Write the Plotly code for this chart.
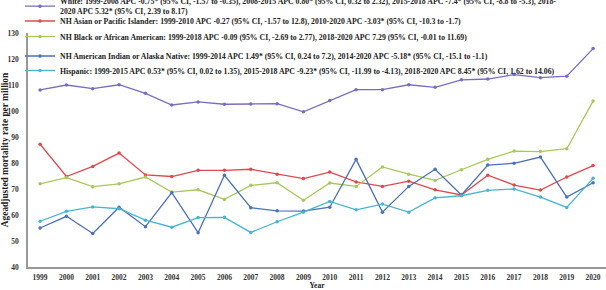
import plotly.graph_objects as go

years = list(range(1999, 2021))

white = [108.1, 110.0, 108.6, 110.1, 106.8, 102.3, 103.5, 102.6, 102.7, 102.8, 99.7,
         104.0, 108.2, 108.2, 110.1, 109.1, 112.0, 112.3, 114.0, 112.8, 113.4, 124.0]
asian = [87.2, 74.8, 78.7, 83.8, 75.4, 74.8, 77.2, 77.2, 77.6, 75.7, 74.0,
         76.5, 72.7, 71.0, 73.0, 69.7, 67.7, 75.3, 71.5, 69.6, 74.6, 79.0]
black = [72.0, 74.4, 70.9, 72.0, 74.6, 68.8, 69.7, 66.0, 71.4, 72.4, 65.7,
         72.3, 71.0, 78.5, 75.7, 73.3, 77.4, 81.4, 84.6, 84.4, 85.5, 103.8]
aian = [55.0, 59.5, 52.9, 63.0, 55.5, 68.6, 53.2, 75.3, 62.8, 61.6, 61.5,
        63.0, 81.4, 61.1, 71.0, 77.6, 67.7, 79.2, 79.9, 82.3, 66.9, 72.4]
hispanic = [57.6, 61.4, 63.1, 62.4, 58.0, 55.3, 59.0, 59.1, 53.3, 57.4, 61.1,
            65.2, 62.0, 64.2, 61.1, 66.6, 67.4, 69.5, 70.0, 66.9, 62.9, 74.1]

names = [
    "White: 1999-2008 APC -0.75* (95% CI, -1.57 to -0.35), 2008-2015 APC 0.80* (95% CI, 0.32 to 2.32), 2015-2018 APC -7.4* (95% CI, -8.8 to -5.3), 2018-<br>2020 APC 5.32* (95% CI, 2.39 to 8.17)",
    "NH Asian or Pacific Islander: 1999-2010 APC -0.27 (95% CI, -1.57 to 12.8), 2010-2020 APC -3.03* (95% CI, -10.3 to -1.7)",
    "NH Black or African American: 1999-2018 APC -0.09 (95% CI, -2.69 to 2.77), 2018-2020 APC 7.29 (95% CI, -0.01 to 11.69)",
    "NH American Indian or Alaska Native: 1999-2014 APC 1.49* (95% CI, 0.24 to 7.2), 2014-2020 APC -5.18* (95% CI, -15.1 to -1.1)",
    "Hispanic: 1999-2015 APC 0.53* (95% CI, 0.02 to 1.35), 2015-2018 APC -9.23* (95% CI, -11.99 to -4.13), 2018-2020 APC 8.45* (95% CI, 1.62 to 14.06)",
]
series = [white, asian, black, aian, hispanic]
colors = ["#7A6CC0", "#E0484E", "#A8C85A", "#4A72BC", "#48B4D2"]
legend_ids = ["legend", "legend2", "legend3", "legend4", "legend5"]
legend_top = [-10.5, 6.5, 22, 41.5, 56]  # pixel tops of legend boxes

FONT = "Liberation Serif"
fig = go.Figure()
for vals, name, col, lid in zip(series, names, colors, legend_ids):
    fig.add_trace(go.Scatter(
        x=years, y=vals, name=name, mode="lines+markers",
        line=dict(color=col, width=1.3),
        marker=dict(color=col, size=3.5),
        legend=lid,
    ))

W, H = 606, 290
ml, mr, mt, mb = 28, 0, 33, 23
pw = W - ml - mr
ph = H - mt - mb

layout_legends = {}
for lid, top in zip(legend_ids, legend_top):
    lx = (20 - ml) / pw
    ly = (H - mb - top) / ph
    layout_legends[lid] = dict(
        x=lx, y=ly, xanchor="left", yanchor="top",
        bgcolor="rgba(0,0,0,0)", borderwidth=0,
        font=dict(family=FONT, size=7.8, color="#222222", weight="bold"),
        itemwidth=30, tracegroupgap=0,
    )

fig.update_layout(
    width=W, height=H,
    margin=dict(l=ml, r=mr, t=mt, b=mb, pad=0, autoexpand=False),
    paper_bgcolor="white", plot_bgcolor="white",
    font=dict(family=FONT, size=7, color="#222222"),
    showlegend=True,
    **layout_legends,
)
fig.update_xaxes(
    range=[1998.54, 2020.49], tickmode="array", tickvals=years,
    ticktext=[str(y) for y in years],
    tickfont=dict(family=FONT, size=7.5, color="#333333", weight="bold"),
    showgrid=False, zeroline=False, automargin=False,
    showline=True, linecolor="#999999", linewidth=2,
    ticks="", ticklabelstandoff=2,
    title=dict(text="<b>Year</b>", font=dict(family=FONT, size=7.5, color="#222222"), standoff=1),
)
fig.update_yaxes(
    range=[40, 130], tickmode="array", tickvals=list(range(40, 131, 10)),
    tickfont=dict(family=FONT, size=7.5, color="#333333", weight="bold"),
    showgrid=False, zeroline=False, automargin=False,
    showline=True, linecolor="#999999", linewidth=1.5,
    ticks="", ticklabelstandoff=6,
    title=dict(text="<b>Ageadjusted mortality rate per million</b>",
               font=dict(family=FONT, size=9.4, color="#222222"), standoff=2),
)
fig.write_html(
    "out.html",
    config={"displayModeBar": False},
    post_script="document.body.style.margin='0';document.body.style.padding='0';",
)
